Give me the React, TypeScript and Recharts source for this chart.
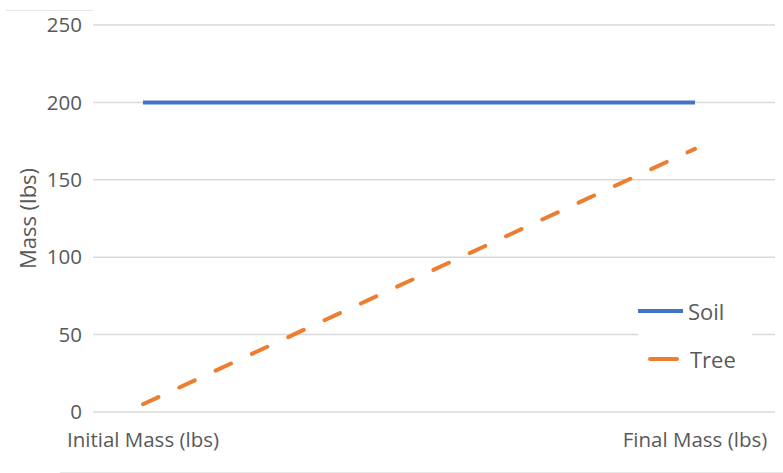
import React from 'react'
import { LineChart, Line, XAxis, YAxis, CartesianGrid, Legend } from 'recharts'

const categories = ['Initial Mass (lbs)', 'Final Mass (lbs)']
const soilMass = [200, 200]
const treeMass = [5, 170]
const yTicks = [0, 50, 100, 150, 200, 250]

const FONT = '"Open Sans", sans-serif'
const TEXT = '#595959'

const chartData = categories.map((name, i) => ({
  name,
  Soil: soilMass[i],
  Tree: treeMass[i],
}))

function YLabel({ viewBox }: any) {
  const cx = (viewBox?.x ?? 0) + 27
  const cy = (viewBox?.y ?? 0) + (viewBox?.height ?? 0) / 2
  return (
    <text
      x={cx}
      y={cy}
      transform={`rotate(-90, ${cx}, ${cy})`}
      textAnchor="middle"
      dominantBaseline="central"
      fill={TEXT}
      fontFamily={FONT}
      fontSize={22}
    >
      Mass (lbs)
    </text>
  )
}

function LegendBox({ payload }: any) {
  return (
    <div style={{ background: '#fff', padding: '10px 0', fontFamily: FONT }}>
      {(payload || []).map((p: any) => {
        const dashed = !!p.payload?.strokeDasharray
        return (
          <div key={p.value} style={{ display: 'flex', alignItems: 'center', height: 48 }}>
            <svg width={45} height={8} style={{ display: 'block' }}>
              <line
                x1={dashed ? 12 : 0}
                x2={dashed ? 39 : 45}
                y1={4}
                y2={4}
                stroke={p.color}
                strokeWidth={4}
                strokeLinecap={dashed ? 'round' : 'butt'}
              />
            </svg>
            <span style={{ marginLeft: dashed ? 7 : 5, fontSize: 22, color: TEXT }}>{p.value}</span>
          </div>
        )
      })}
    </div>
  )
}

export default function App() {
  return (
    <div style={{ position: 'absolute', left: 0, top: 0, width: 783, height: 473, background: '#fff' }}>
      <div style={{ position: 'absolute', left: 6, top: 10, width: 87, height: 1, background: '#e6e6e6' }} />
      <div style={{ position: 'absolute', left: 60, top: 472, width: 723, height: 1, background: '#e6e6e6' }} />
      <LineChart
        width={783}
        height={473}
        data={chartData}
        margin={{ top: 25, right: 8, bottom: 21, left: 0 }}
      >
        <CartesianGrid vertical={false} stroke="#d9d9d9" strokeWidth={1.5} />
        <XAxis
          dataKey="name"
          axisLine={false}
          tickLine={false}
          tickSize={0}
          tickMargin={20}
          height={40}
          padding={{ left: 50, right: 80 }}
          interval={0}
          tick={{ fill: TEXT, fontSize: 20.5, fontFamily: FONT }}
        />
        <YAxis
          domain={[0, 250]}
          ticks={yTicks}
          width={93}
          axisLine={false}
          tickLine={false}
          tickSize={0}
          tickMargin={11}
          tick={{ fill: TEXT, fontSize: 20.5, fontFamily: FONT }}
          label={<YLabel />}
        />
        <Legend
          layout="vertical"
          align="center"
          verticalAlign="middle"
          content={<LegendBox />}
          wrapperStyle={{ left: 638, top: 277, width: 114 }}
        />
        <Line
          type="linear"
          dataKey="Soil"
          stroke="#4472C4"
          strokeWidth={4}
          dot={false}
          isAnimationActive={false}
        />
        <Line
          type="linear"
          dataKey="Tree"
          stroke="#ED7D31"
          strokeWidth={4}
          strokeDasharray="17 23"
          strokeLinecap="round"
          dot={false}
          isAnimationActive={false}
        />
      </LineChart>
    </div>
  )
}
